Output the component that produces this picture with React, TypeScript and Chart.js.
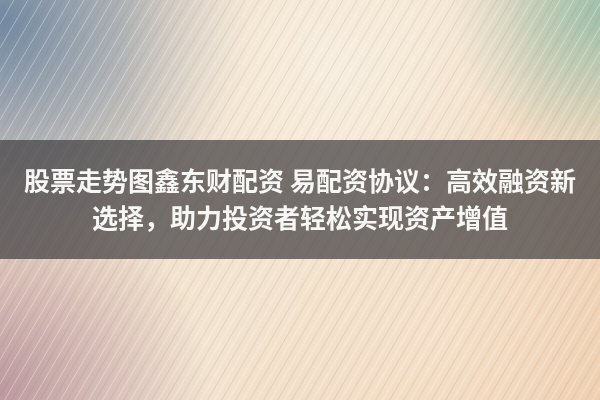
import { useRef, useEffect } from 'react'
import Chart from 'chart.js/auto'

// headline text, one entry per line (as in the picture)
const TITLE_LINES = [
  '股票走势图鑫东财配资 易配资协议：高效融资新',
  '选择，助力投资者轻松实现资产增值',
]

// blurred backdrop colours
const BASE_STOPS: [number, string][] = [
  [0, '#eed9c4'],
  [0.5, '#f3e4d0'],
  [1, '#efcfb0'],
]
const GLOWS: { x: number; y: number; r: number; color: string }[] = [
  { x: 0, y: 20, r: 250, color: 'rgba(100,128,158,0.9)' },
  { x: 0, y: 390, r: 210, color: 'rgba(170,130,145,0.75)' },
  { x: 600, y: 10, r: 150, color: 'rgba(140,185,165,0.8)' },
  { x: 330, y: 60, r: 210, color: 'rgba(248,240,226,0.8)' },
  { x: 430, y: 330, r: 190, color: 'rgba(248,232,212,0.5)' },
]

const backdrop = {
  id: 'backdrop',
  beforeDraw(chart: Chart) {
    const { ctx, width, height } = chart
    ctx.save()
    const base = ctx.createLinearGradient(0, 0, width, height)
    BASE_STOPS.forEach(([p, c]) => base.addColorStop(p, c))
    ctx.fillStyle = base
    ctx.fillRect(0, 0, width, height)

    GLOWS.forEach((g) => {
      const rg = ctx.createRadialGradient(g.x, g.y, 0, g.x, g.y, g.r)
      rg.addColorStop(0, g.color)
      rg.addColorStop(1, g.color.replace(/[\d.]+\)$/, '0)'))
      ctx.fillStyle = rg
      ctx.fillRect(0, 0, width, height)
    })

    // brushed streak texture
    const tile = document.createElement('canvas')
    tile.width = 14
    tile.height = 24
    const tc = tile.getContext('2d')!
    tc.strokeStyle = 'rgba(255,255,255,0.35)'
    tc.lineWidth = 1
    tc.beginPath()
    tc.moveTo(0, 24)
    tc.lineTo(14, 0)
    tc.stroke()
    tc.strokeStyle = 'rgba(120,100,90,0.14)'
    tc.beginPath()
    tc.moveTo(7, 24)
    tc.lineTo(21, 0)
    tc.moveTo(-7, 24)
    tc.lineTo(7, 0)
    tc.stroke()
    const pat = ctx.createPattern(tile, 'repeat')
    if (pat) {
      ctx.fillStyle = pat
      ctx.fillRect(0, 0, width, height)
    }

    // dark translucent band behind the headline
    ctx.fillStyle = 'rgba(66,64,66,0.72)'
    ctx.fillRect(0, 140, width, 119)
    ctx.restore()
  },
}

export default function App() {
  const canvasRef = useRef<HTMLCanvasElement>(null)

  useEffect(() => {
    if (!canvasRef.current) return
    const chart = new Chart(canvasRef.current, {
      type: 'bar',
      data: { labels: [], datasets: [] },
      options: {
        animation: false,
        responsive: true,
        maintainAspectRatio: false,
        layout: { padding: 0 },
        scales: { x: { display: false }, y: { display: false } },
        plugins: {
          legend: { display: false },
          tooltip: { enabled: false },
          title: {
            display: true,
            text: TITLE_LINES,
            color: '#f7f7f5',
            align: 'center',
            font: { family: '"Noto Sans CJK SC", "Noto Sans", sans-serif', size: 26, weight: 'bold', lineHeight: 1.42 },
            padding: { top: 163, bottom: 20 },
          },
        },
      },
      plugins: [backdrop],
    })
    return () => chart.destroy()
  }, [])

  return (
    <div style={{ position: 'fixed', left: 0, top: 0, width: 600, height: 400 }}>
      <canvas ref={canvasRef} />
    </div>
  )
}
